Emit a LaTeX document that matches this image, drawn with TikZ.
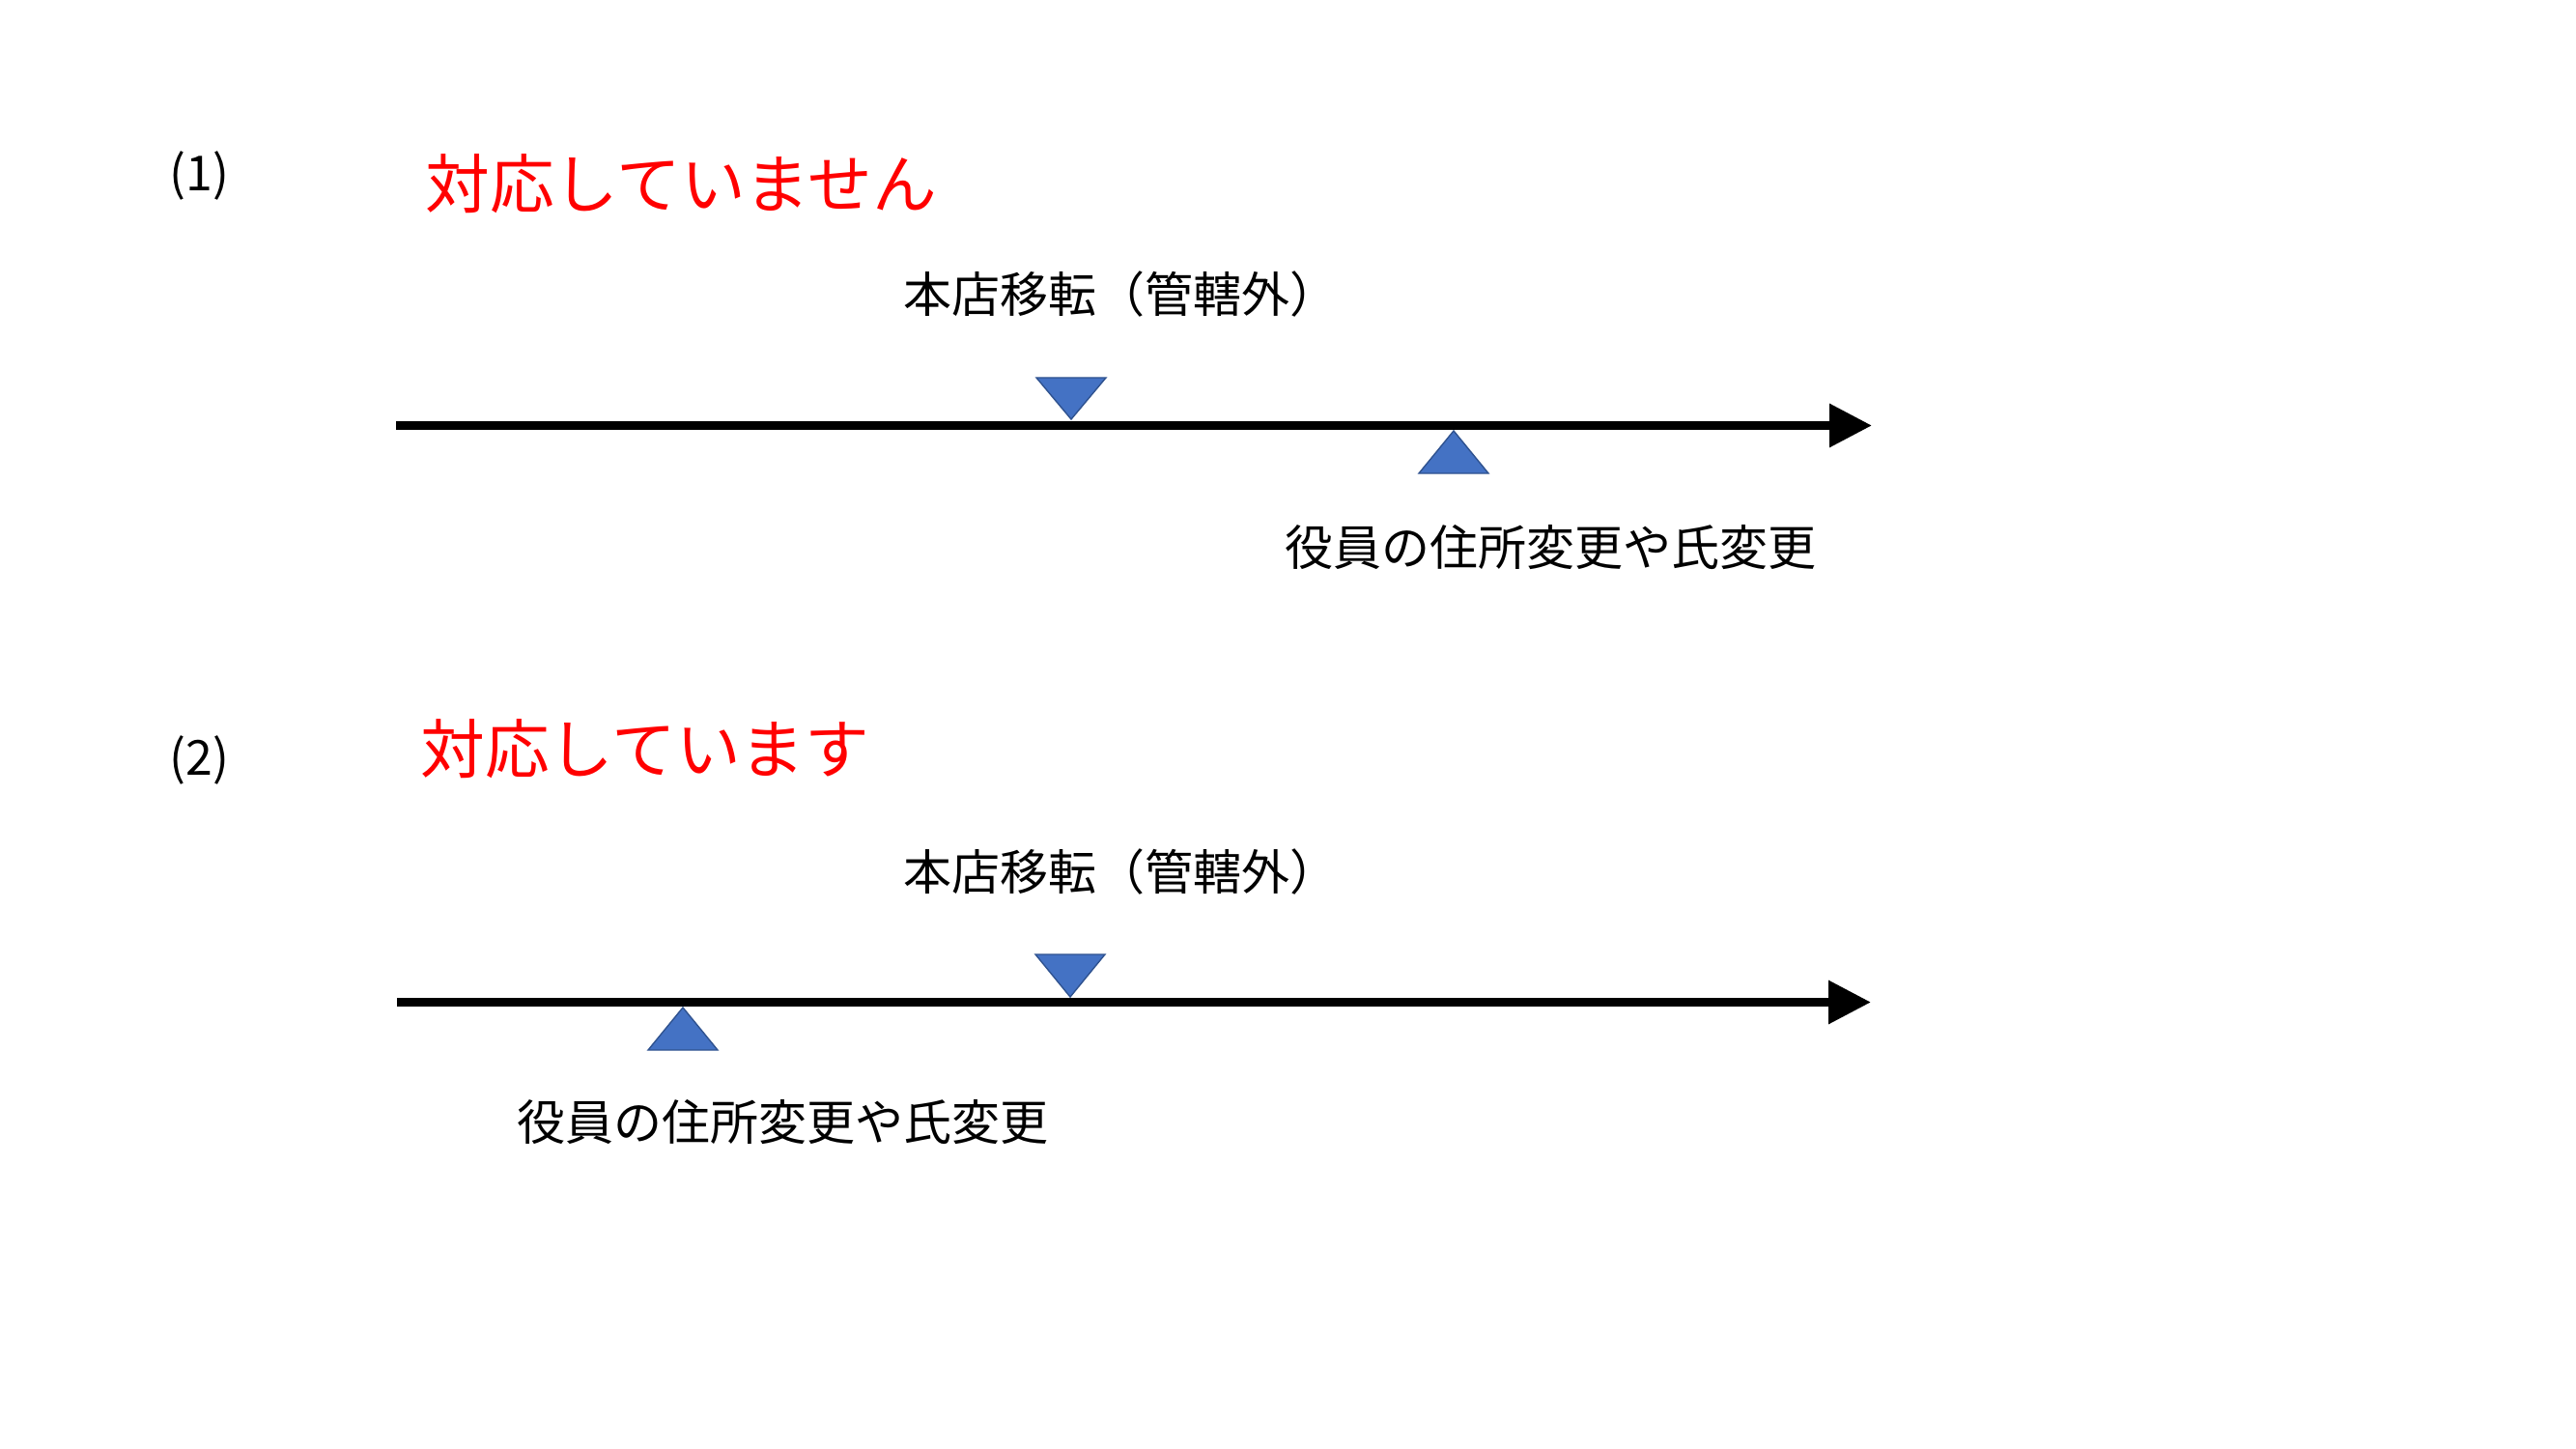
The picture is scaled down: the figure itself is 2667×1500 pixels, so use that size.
\documentclass[tikz,border=0pt]{standalone}
\usepackage{fontspec}
\setmainfont{Noto Sans CJK JP}
\usetikzlibrary{arrows.meta}
\definecolor{triblue}{HTML}{4472C4}
\definecolor{triedge}{HTML}{2F528F}
\definecolor{alertred}{HTML}{FF0000}
\tikzset{
  lbl/.style={inner sep=0pt, anchor=west, font=\fontsize{18pt}{21pt}\selectfont},
  head/.style={inner sep=0pt, anchor=west, text=alertred, font=\fontsize{24pt}{28pt}\selectfont},
  timeline/.style={line width=3.24pt, -{Triangle[length=15.8pt,width=15.5pt]}},
  tri/.style={fill=triblue, draw=triedge, line width=0.5pt, line join=miter}
}
\begin{document}
\begin{tikzpicture}[x=0.36pt,y=-0.36pt]
\useasboundingbox (0,0) rectangle (2667,1500);
\fill[white] (0,0) rectangle (2667,1500);

% ---- section (1)
\node[lbl] (n1) at (175,182) {(1)};
\node[head] (t1) at (440,190) {対応していません};
\node[lbl] (a1) at (935,305) {本店移転（管轄外）};
\coordinate (s1) at (410,440.5);
\coordinate (e1) at (1938,440.5);
\draw[timeline] (s1) -- (e1);
\draw[tri] (1073,391) -- (1145,391) -- (1109,434) -- cycle;
\draw[tri] (1469,490) -- (1541,490) -- (1505,446) -- cycle;
\node[lbl] (b1) at (1330,567) {役員の住所変更や氏変更};

% ---- section (2)
\node[lbl] (n2) at (175,787) {(2)};
\node[head] (t2) at (435,775) {対応しています};
\node[lbl] (a2) at (935,902) {本店移転（管轄外）};
\coordinate (s2) at (411,1037.5);
\coordinate (e2) at (1937,1037.5);
\draw[timeline] (s2) -- (e2);
\draw[tri] (1072,988) -- (1144,988) -- (1108,1032) -- cycle;
\draw[tri] (671,1087) -- (743,1087) -- (707,1043) -- cycle;
\node[lbl] (b2) at (535,1162) {役員の住所変更や氏変更};
\end{tikzpicture}
\end{document}
